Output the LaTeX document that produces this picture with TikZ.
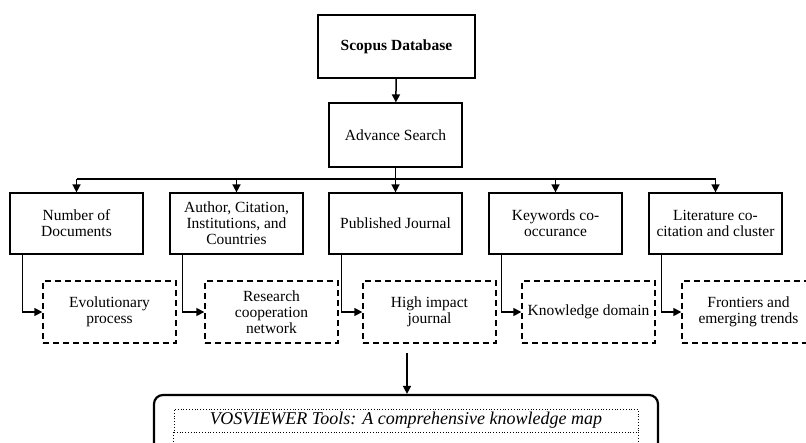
\documentclass[tikz,border=0pt]{standalone}
\usepackage{fontspec}
\setmainfont{Liberation Serif}
\usetikzlibrary{arrows.meta}

\begin{document}
\begin{tikzpicture}[x=1pt,y=-1pt,
  box/.style={draw,line width=1.2pt,fill=white,align=center,inner sep=2pt,
    font=\fontsize{15.5}{16}\selectfont},
  mainbox/.style={box,minimum width=133pt,minimum height=61pt},
  resultbox/.style={box,dash pattern=on 6pt off 4pt,line width=1.4pt,
    minimum width=133pt,minimum height=62pt},
  link/.style={line width=1.5pt,-{Triangle[length=8pt,width=8pt]}}]

\useasboundingbox (0,0) rectangle (806,442);
\clip (0,0) rectangle (806,442);

\node[box,minimum width=157pt,minimum height=63pt,font=\fontsize{15.5}{16}\selectfont\bfseries]
  (scopus) at (396.5,46.5) {Scopus Database};
\node[box,minimum width=133pt,minimum height=64pt] (adv) at (395.5,135) {Advance Search};

\node[mainbox] (n1) at (76.5,223.5) {Number of\\Documents};
\node[mainbox] (n2) at (236.5,223.5) {Author, Citation,\\Institutions, and\\Countries};
\node[mainbox] (n3) at (395.5,223.5) {Published Journal};
\node[mainbox] (n4) at (555.5,223.5) {Keywords co-\\occurance};
\node[mainbox] (n5) at (715.5,223.5) {Literature co-\\citation and cluster};

\node[resultbox] (d1) at (109.5,312) {Evolutionary\\process};
\node[resultbox] (d2) at (271.5,312) {Research\\cooperation\\network};
\node[resultbox] (d3) at (429.5,312) {High impact\\journal};
\node[resultbox] (d4) at (588.5,312) {Knowledge domain};
\node[resultbox] (d5) at (748.5,312) {Frontiers and\\emerging trends};

\node[draw,line width=2.2pt,rounded corners=9pt,minimum width=504pt,minimum height=75pt]
  (vos) at (406,432.5) {};
\node[draw,dotted,line width=0.8pt,minimum width=464pt,minimum height=23pt,inner sep=0pt,
  font=\fontsize{18}{20}\selectfont\itshape] (vostext) at (406,420.5)
  {VOSVIEWER Tools: A comprehensive knowledge map};
\draw[dotted,line width=0.8pt] (vostext.south west) -- ++(0,30);
\draw[dotted,line width=0.8pt] (vostext.south east) -- ++(0,30);

\draw[link] (scopus) -- (adv);
\coordinate (bus) at (395.5,179);
\draw[line width=1.5pt] (adv.south) -- (bus);
\draw[line width=1.5pt] (n1.north |- bus) -- (n5.north |- bus);
\foreach \i in {1,...,5} {
  \draw[link] (n\i.north |- bus) -- (n\i.north);
  \draw[link] ([xshift=13pt]n\i.south west) |- (d\i.west);
}

\coordinate (vtop) at (407,353);
\draw[link] (vtop) -- (vtop |- vos.north);
\end{tikzpicture}
\end{document}
